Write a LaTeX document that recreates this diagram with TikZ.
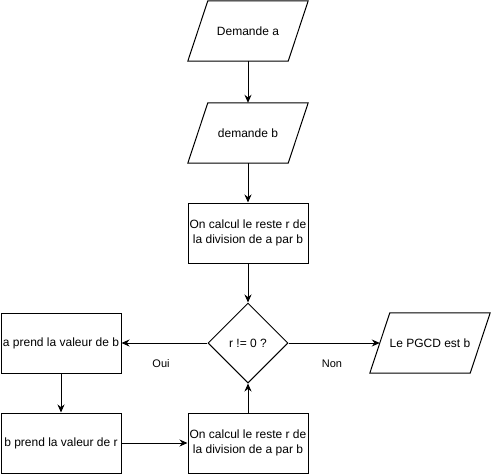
\documentclass[tikz,border=0pt]{standalone}
\usepackage{fontspec}
\setmainfont{Liberation Sans}
\usetikzlibrary{arrows.meta,shapes.geometric}
\begin{document}
\begin{tikzpicture}[x=1pt,y=-1pt,
  every node/.style={font=\fontsize{12}{14.5}\selectfont},
  box/.style={draw,line width=1pt,rectangle,minimum width=120pt,minimum height=60pt,inner sep=0pt,align=center},
  parabox/.style={rectangle,minimum width=120pt,minimum height=60pt,inner sep=0pt,align=center},
  paraline/.style={line width=1pt,line join=miter},
  decision/.style={draw,line width=1pt,diamond,minimum width=80pt,minimum height=80pt,inner sep=0pt,aspect=1},
  lbl/.style={font=\fontsize{11}{13}\selectfont},
  conn/.style={line width=1pt,-{Stealth[length=8pt,width=7pt]}}
]
\useasboundingbox (0,0) rectangle (491,474);
\node[parabox] (A) at (248,31) {Demande a};
\node[parabox] (B) at (248,133) {demande b};
\node[box] (C) at (248,233) {On calcul le reste r de\\la division de a par b};
\node[decision] (D) at (248,343) {r != 0 ?};
\node[box] (E) at (61,343) {a prend la valeur de b};
\node[box] (F) at (61,443) {b prend la valeur de r};
\node[box] (G) at (248,443) {On calcul le reste r de\\la division de a par b};
\node[parabox] (H) at (430,343) {Le PGCD est b};
\foreach \n in {A,B,H}{
  \draw[paraline] ([xshift=20pt]\n.north west) -- (\n.north east) -- ([xshift=-20pt]\n.south east) -- (\n.south west) -- cycle;
}
\draw[conn] (A) -- (B);
\draw[conn] (B) -- (C);
\draw[conn] (C) -- (D);
\draw[conn] (D) -- (E);
\draw[conn] (D.east) -- ([xshift=10pt]H.west);
\draw[conn] (E) -- (F);
\draw[conn] (F) -- (G);
\draw[conn] (G) -- (D);
\node[lbl] (oui) at (161,364) {Oui};
\node[lbl] (non) at (332,364) {Non};
\end{tikzpicture}
\end{document}
